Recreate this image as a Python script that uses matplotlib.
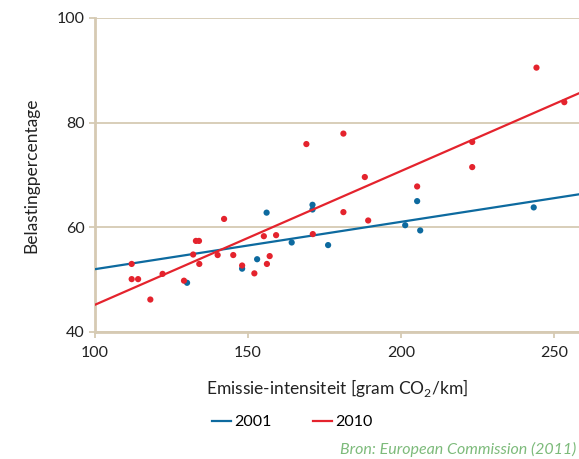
import numpy as np
import matplotlib
matplotlib.use("Agg")
import matplotlib.pyplot as plt
from matplotlib.lines import Line2D

plt.rcParams['font.family'] = ['Lato', 'DejaVu Sans']
plt.rcParams['mathtext.fontset'] = 'custom'
plt.rcParams['mathtext.rm'] = 'Lato'

# emissie-intensiteit (gram CO2/km) en belastingpercentage per land
x_2001 = [130.1, 148.1, 153.0, 156.1, 164.3, 171.1, 171.1, 176.2, 201.4, 205.3, 206.3, 243.4]
y_2001 = [49.4, 52.1, 53.9, 62.8, 57.1, 64.3, 63.4, 56.6, 60.4, 65.0, 59.4, 63.8]

x_2010 = [112.0, 112.0, 114.1, 118.1, 122.1, 129.1, 132.1, 133.0, 134.0, 134.1,
          140.1, 142.2, 145.2, 148.1, 152.1, 155.2, 156.2, 157.1, 159.2, 169.1,
          171.2, 181.2, 181.2, 188.2, 189.3, 205.3, 223.3, 223.3, 244.3, 253.4]
y_2010 = [53.0, 50.1, 50.1, 46.2, 51.1, 49.8, 54.8, 57.4, 57.4, 53.0,
          54.7, 61.6, 54.7, 52.7, 51.2, 58.3, 53.0, 54.5, 58.5, 75.9,
          58.7, 77.9, 62.9, 69.6, 61.3, 67.8, 76.3, 71.5, 90.5, 83.9]

trend_2001 = (52.0, 0.0904)
trend_2010 = (45.2, 0.2554)

blue = '#0d6a9f'
red = '#e4232d'
beige = '#d6cab3'

fig = plt.figure(figsize=(5.79, 4.59), dpi=100)
ax = fig.add_axes([0.164, 0.2767, 0.836, 0.6843])

xs = np.array([100, 260])
ax.plot(xs, trend_2001[0] + trend_2001[1] * (xs - 100), color=blue, lw=1.6, zorder=3)
ax.scatter(x_2001, y_2001, s=20, color=blue, edgecolors='none', zorder=4)
ax.plot(xs, trend_2010[0] + trend_2010[1] * (xs - 100), color=red, lw=1.6, zorder=5)
ax.scatter(x_2010, y_2010, s=20, color=red, edgecolors='none', zorder=6)

ax.set_xlim(100, 258.2)
ax.set_ylim(40, 100)
ax.set_xticks([100, 150, 200, 250])
ax.set_yticks([40, 60, 80, 100])
ax.yaxis.grid(True, color=beige, lw=1.3)
ax.set_axisbelow(True)

for side in ['top', 'right']:
    ax.spines[side].set_visible(False)
for side in ['left', 'bottom']:
    ax.spines[side].set_color(beige)
    ax.spines[side].set_linewidth(2)
ax.tick_params(colors=beige, width=1.3, length=4, labelcolor='#222222', labelsize=11.5)
ax.tick_params(axis='x', pad=6)

ax.set_xlabel('Emissie-intensiteit [gram CO$_2$/km]', fontsize=12.5, color='#222222', labelpad=12)
ax.set_ylabel('Belastingpercentage', fontsize=12.5, color='#222222', labelpad=12)

handles = [Line2D([0], [0], color=blue, lw=1.6), Line2D([0], [0], color=red, lw=1.6)]
fig.legend(handles, ['2001', '2010'], loc='center', bbox_to_anchor=(0.505, 1 - 422 / 459),
           ncol=2, frameon=False, fontsize=11.5, handlelength=1.2, handletextpad=0.2,
           columnspacing=2.6)

fig.text(576 / 579, 1 - 449 / 459, 'Bron: European Commission (2011)', fontsize=11.5,
         style='italic', color='#7dbb7b', va='center', ha='right')

fig.savefig('out.png', dpi=100)
